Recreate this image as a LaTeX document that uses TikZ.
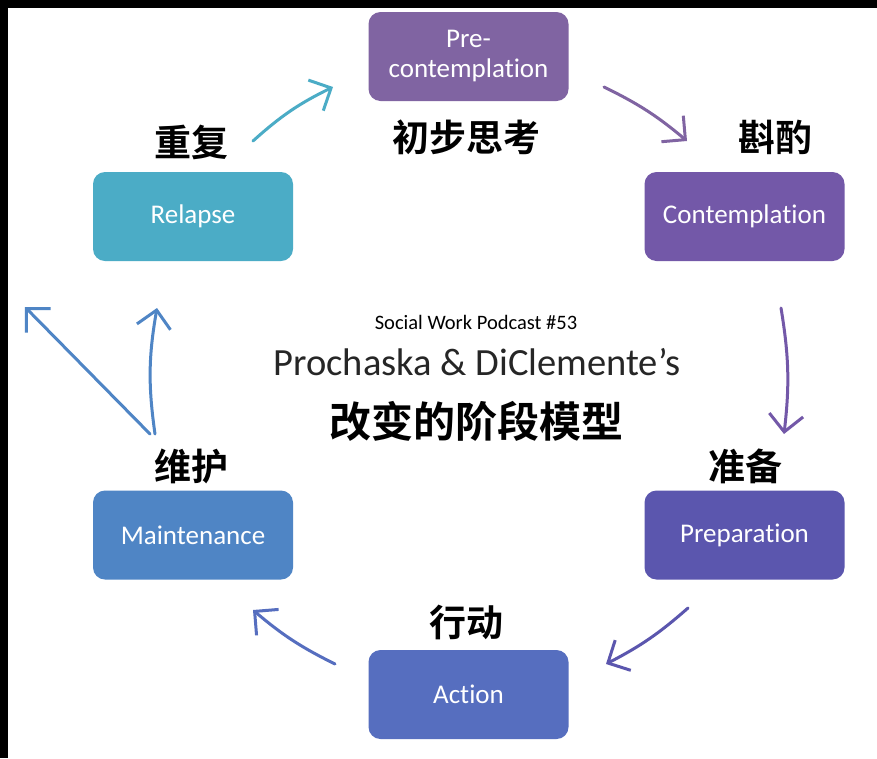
\documentclass[tikz,border=0pt]{standalone}
\usepackage{fontspec}
\setmainfont{Carlito}[Ligatures={NoCommon}]
\newfontfamily\cjk{Noto Sans CJK SC}[BoldFont={* Bold}]
\usetikzlibrary{arrows.meta}

\definecolor{cPre}{HTML}{8064A2}
\definecolor{cCon}{HTML}{7358A8}
\definecolor{cPrep}{HTML}{5B56AE}
\definecolor{cAct}{HTML}{566EBF}
\definecolor{cMain}{HTML}{4F85C5}
\definecolor{cRel}{HTML}{4BACC6}
\definecolor{subtitle}{HTML}{262626}

\tikzset{
  stage/.style={rounded corners=12pt, minimum width=200pt, minimum height=89pt,
    inner sep=0pt, text=white, font=\fontsize{27}{30}\selectfont, align=center},
  cnlabel/.style={font=\cjk\bfseries\fontsize{37}{39}\selectfont, text=black, inner sep=0pt},
  flow/.style={line width=3pt, line cap=round,
    -{Straight Barb[length=17pt, width=34pt, line width=3pt]}},
}

\begin{document}
\begin{tikzpicture}[x=1pt, y=-1pt]
  % canvas and the dark edges
  \fill[white] (0,0) rectangle (877,758);
  \fill[black] (0,0) rectangle (877,8);
  \fill[black] (0,0) rectangle (8,758);
  \useasboundingbox (0,0) rectangle (877,758);

  % the six stages
  \node[stage, fill=cPre]  (pre)  at (468.5,56.5)  {Pre-\\contemplation};
  \node[stage, fill=cCon]  (con)  at (744.5,216.5) {Contemplation};
  \node[stage, fill=cPrep] (prep) at (744.5,535)   {Preparation};
  \node[stage, fill=cAct]  (act)  at (468.5,694.5) {Action};
  \node[stage, fill=cMain] (main) at (193,535)     {Maintenance};
  \node[stage, fill=cRel]  (rel)  at (193,216.5)   {Relapse};

  % Chinese stage names
  \node[cnlabel] (lrel)  at (191,142) {重复};
  \node[cnlabel] (lpre)  at (466,137) {初步思考};
  \node[cnlabel] (lcon)  at (775,137) {斟酌};
  \node[cnlabel] (lmain) at (191,466) {维护};
  \node[cnlabel] (lprep) at (745,466) {准备};
  \node[cnlabel] (lact)  at (466,622) {行动};

  % central title
  \node[font=\fontsize{20.5}{22}\selectfont, text=black, inner sep=0pt] (pod) at (476,322) {Social Work Podcast \#53};
  \node[font=\fontsize{38.5}{40}\selectfont, text=subtitle, inner sep=0pt] (authors) at (477,362) {Prochaska \& DiClemente’s};
  \node[font=\cjk\bfseries\fontsize{42}{44}\selectfont, text=black, inner sep=0pt] (title) at (476,421) {改变的阶段模型};

  % arrow end points
  \coordinate (a1s) at (253,141); \coordinate (a1e) at (333,87);
  \coordinate (a2s) at (604,87);  \coordinate (a2e) at (687,141);
  \coordinate (a3s) at (781,308); \coordinate (a3e) at (784,434);
  \coordinate (a4s) at (688,608); \coordinate (a4e) at (606,664);
  \coordinate (a5s) at (335,664); \coordinate (a5e) at (253,610);
  \coordinate (a6s) at (155,434); \coordinate (a6e) at (157,308);
  \coordinate (a7s) at (150,434); \coordinate (a7e) at (25,307);

  % cycle arrows
  \draw[flow, cRel]  (a1s) to[bend left=8] (a1e);
  \draw[flow, cPre]  (a2s) to[bend left=7] (a2e);
  \draw[flow, cCon]  (a3s) to[bend left=8] (a3e);
  \draw[flow, cPrep] (a4s) to[bend left=7]  (a4e);
  \draw[flow, cAct]  (a5s) to[bend left=7]  (a5e);
  \draw[flow, cMain] (a6s) to[bend left=9] (a6e);
  \draw[flow, cMain] (a7s) -- (a7e);
\end{tikzpicture}
\end{document}
